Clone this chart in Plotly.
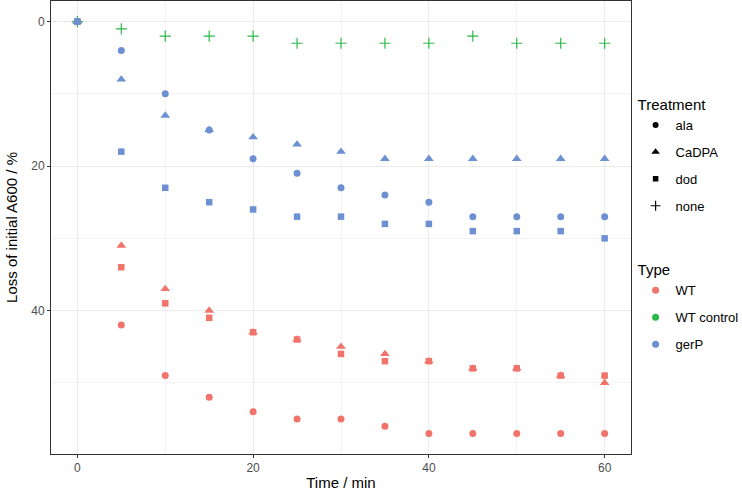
import plotly.graph_objects as go

times = [0, 5, 10, 15, 20, 25, 30, 35, 40, 45, 50, 55, 60]

wt_ala = [0, 42, 49, 52, 54, 55, 55, 56, 57, 57, 57, 57, 57]
wt_cadpa = [0, 31, 37, 40, 43, 44, 45, 46, 47, 48, 48, 49, 50]
wt_dod = [0, 34, 39, 41, 43, 44, 46, 47, 47, 48, 48, 49, 49]
ctrl_none = [0, 1, 2, 2, 2, 3, 3, 3, 3, 2, 3, 3, 3]
gerp_ala = [0, 4, 10, 15, 19, 21, 23, 24, 25, 27, 27, 27, 27]
gerp_cadpa = [0, 8, 13, 15, 16, 17, 18, 19, 19, 19, 19, 19, 19]
gerp_dod = [0, 18, 23, 25, 26, 27, 27, 28, 28, 29, 29, 29, 30]

treatments = ["ala", "CaDPA", "dod", "none"]
types = ["WT", "WT control", "gerP"]

colors = {"WT": "#F0736C", "WT control": "#2DB84A", "gerP": "#6C90D2"}
symbols = {"ala": "circle", "CaDPA": "triangle-up", "dod": "square", "none": "cross-thin"}
sizes = {"ala": 7, "CaDPA": 8.5, "dod": 6.5, "none": 8}

series = [
    ("WT", "ala", wt_ala),
    ("WT", "CaDPA", wt_cadpa),
    ("WT", "dod", wt_dod),
    ("WT control", "none", ctrl_none),
    ("gerP", "ala", gerp_ala),
    ("gerP", "CaDPA", gerp_cadpa),
    ("gerP", "dod", gerp_dod),
]

fig = go.Figure()


def marker_for(treat, color):
    m = dict(symbol=symbols[treat], size=sizes[treat], color=color)
    if treat == "none":
        m["line"] = dict(color=color, width=1.2)
    else:
        m["line"] = dict(width=0)
    return m


for typ, treat, vals in series:
    fig.add_trace(go.Scatter(
        x=times, y=vals, mode="markers",
        marker=marker_for(treat, colors[typ]),
        showlegend=False, hoverinfo="x+y",
    ))

# Legend: Treatment (shapes)
for i, treat in enumerate(treatments):
    m = marker_for(treat, "black")
    m["size"] = sizes[treat] - 1
    fig.add_trace(go.Scatter(
        x=[None], y=[None], mode="markers", name=treat,
        marker=m, legend="legend", legendgroup="t" + treat,
    ))

# Legend: Type (colors)
for typ in types:
    fig.add_trace(go.Scatter(
        x=[None], y=[None], mode="markers", name=typ,
        marker=dict(symbol="circle", size=7, color=colors[typ]),
        legend="legend2", legendgroup="c" + typ,
    ))

axis_common = dict(
    showgrid=True, gridcolor="#EBEBEB", gridwidth=1,
    zeroline=False,
    showline=True, linecolor="#333333", linewidth=1, mirror=True,
    ticks="outside", ticklen=3, tickcolor="#333333", tickwidth=1,
    tickfont=dict(size=12, color="#4D4D4D"),
    minor=dict(showgrid=True, gridcolor="#F3F3F3", gridwidth=0.6, dtick=10, tick0=0, ticks=""),
    automargin=False,
)

fig.update_layout(
    width=742, height=495,
    paper_bgcolor="white", plot_bgcolor="white",
    font=dict(family="Liberation Sans, Arial, sans-serif", color="black"),
    margin=dict(l=51, r=111, t=1, b=41),
    xaxis=dict(range=[-3, 63], tickvals=[0, 20, 40, 60],
               title=dict(text="Time / min", font=dict(size=15), standoff=3),
               **axis_common),
    yaxis=dict(range=[59.85, -2.85], tickvals=[0, 20, 40],
               title=dict(text="Loss of initial A600 / %", font=dict(size=15), standoff=9),
               **axis_common),
    legend=dict(
        title=dict(text="Treatment", font=dict(size=15)),
        xref="container", yref="container",
        x=0.8566, xanchor="left", y=0.817, yanchor="top",
        font=dict(size=13), tracegroupgap=7, traceorder="grouped",
        bgcolor="rgba(0,0,0,0)", itemsizing="trace",
    ),
    legend2=dict(
        title=dict(text="Type", font=dict(size=15)),
        xref="container", yref="container",
        x=0.8566, xanchor="left", y=0.483, yanchor="top",
        font=dict(size=13), tracegroupgap=7, traceorder="grouped",
        bgcolor="rgba(0,0,0,0)", itemsizing="trace",
    ),
)

fig.write_html("out.html", config={"displayModeBar": False},
               post_script="document.body.style.margin='0';")
